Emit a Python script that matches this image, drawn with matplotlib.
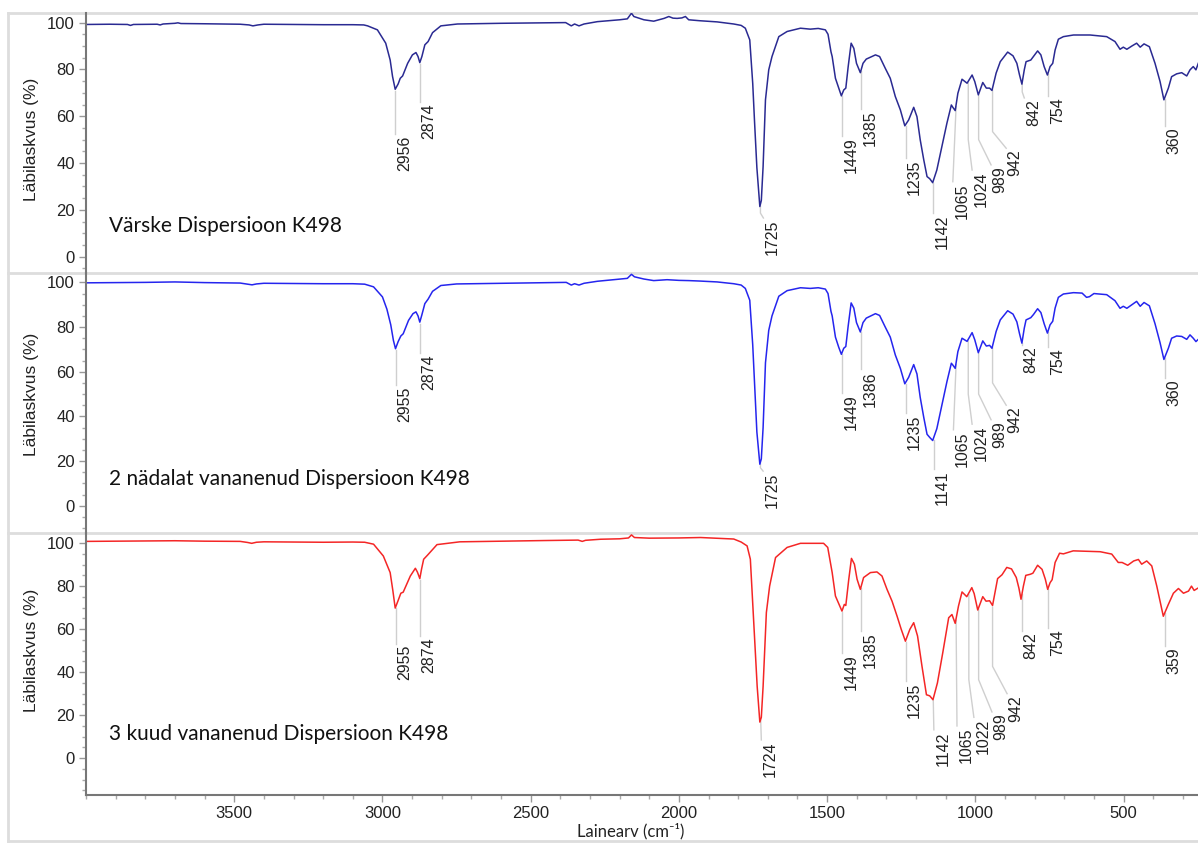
import numpy as np
import matplotlib.pyplot as plt
from matplotlib.lines import Line2D
from matplotlib.ticker import MultipleLocator

# IR spektrid: (lainearv cm-1, läbilaskvus %)
spec_fresh = [
    (4000, 99.2), (3920, 99.3), (3860, 99.2), (3850, 98.8), (3840, 99.2), (3760, 99.3), (3750, 99.0),
    (3740, 99.4), (3700, 99.7), (3690, 99.9), (3680, 99.6), (3600, 99.5), (3480, 99.3), (3450, 99.0),
    (3437, 98.6), (3420, 99.0), (3400, 99.3), (3300, 99.2), (3200, 99.1), (3100, 99.1), (3063, 99.0),
    (3050, 98.6), (3017, 96.9), (2989, 91.2), (2974, 84.0), (2966, 77.0), (2957, 71.5), (2947, 73.8),
    (2940, 76.2), (2932, 77.2), (2915, 82.6), (2899, 86.2), (2887, 87.2), (2880, 85.5), (2874, 82.9),
    (2867, 85.5), (2857, 90.5), (2846, 91.9), (2831, 95.7), (2803, 98.6), (2747, 99.4), (2601, 99.7),
    (2450, 99.9), (2382, 100.0), (2363, 98.6), (2352, 99.4), (2337, 98.6), (2320, 99.4), (2275, 100.4),
    (2200, 101.2), (2174, 101.6), (2160, 104.0), (2152, 102.6), (2118, 101.2), (2085, 100.6),
    (2050, 101.8), (2034, 102.6), (2020, 101.9), (2006, 101.8), (1990, 102.0), (1978, 102.6),
    (1967, 101.2), (1930, 100.8), (1871, 100.3), (1815, 99.4), (1790, 98.8), (1776, 97.6), (1761, 92.6),
    (1751, 74.0), (1745, 58.0), (1737, 38.0), (1727, 21.4), (1722, 24.0), (1716, 38.5), (1708, 67.0),
    (1697, 79.8), (1686, 85.5), (1663, 94.0), (1635, 96.2), (1590, 97.6), (1557, 97.2), (1530, 97.5),
    (1506, 96.9), (1497, 95.0), (1487, 87.5), (1483, 85.5), (1472, 76.2), (1461, 72.0), (1452, 68.7),
    (1444, 71.2), (1437, 72.0), (1429, 81.2), (1419, 91.2), (1410, 89.0), (1401, 82.6), (1388, 78.6),
    (1379, 82.6), (1368, 84.4), (1337, 86.2), (1323, 85.5), (1304, 80.5), (1287, 76.2), (1270, 68.4),
    (1253, 62.7), (1238, 55.9), (1225, 58.4), (1208, 63.8), (1197, 59.8), (1186, 49.9), (1174, 41.3),
    (1163, 34.2), (1154, 33.3), (1144, 31.6), (1130, 37.0), (1113, 47.0), (1096, 57.0), (1081, 64.8),
    (1076, 63.8), (1068, 62.4), (1059, 69.8), (1045, 75.8), (1028, 74.1), (1011, 77.6), (1002, 74.8),
    (990, 69.1), (975, 74.4), (963, 72.0), (952, 72.0), (944, 71.0), (930, 78.4), (916, 83.3),
    (891, 87.4), (873, 85.8), (860, 82.6), (851, 77.6), (843, 73.7), (835, 79.8), (829, 83.3),
    (813, 84.0), (804, 85.5), (790, 87.9), (779, 86.2), (768, 81.2), (757, 77.6), (748, 81.2),
    (739, 82.6), (731, 88.3), (720, 92.9), (703, 94.0), (669, 94.7), (613, 94.7), (557, 94.0),
    (529, 91.9), (512, 88.6), (501, 89.5), (489, 88.6), (472, 90.0), (456, 91.2), (444, 89.5),
    (431, 90.9), (413, 89.7), (394, 82.6), (377, 74.8), (364, 67.0), (349, 72.0), (338, 76.9),
    (321, 78.1), (304, 78.6), (287, 77.2), (276, 79.8), (265, 81.2), (256, 79.8), (248, 82.6),
]

spec_2w = [
    (4000, 99.8), (3900, 99.9), (3800, 100.0), (3700, 100.2), (3600, 99.9), (3480, 99.7), (3455, 99.2),
    (3440, 98.9), (3425, 99.3), (3400, 99.6), (3300, 99.5), (3200, 99.4), (3100, 99.4), (3060, 99.2),
    (3030, 98.0), (3000, 93.5), (2985, 88.0), (2972, 81.0), (2963, 74.0), (2956, 70.3), (2947, 73.5),
    (2938, 76.0), (2930, 77.0), (2912, 83.0), (2897, 86.0), (2887, 86.8), (2880, 85.0), (2874, 82.2),
    (2867, 85.5), (2857, 90.5), (2846, 92.5), (2831, 96.0), (2803, 98.6), (2750, 99.3), (2600, 99.6),
    (2450, 99.9), (2380, 100.0), (2363, 98.8), (2352, 99.4), (2337, 98.8), (2320, 99.6), (2275, 100.5),
    (2200, 101.5), (2174, 101.8), (2160, 103.6), (2150, 102.5), (2118, 101.5), (2085, 100.8),
    (2040, 101.2), (2000, 100.9), (1967, 100.8), (1930, 100.6), (1871, 100.2), (1815, 99.4),
    (1790, 98.8), (1776, 97.3), (1761, 92.0), (1751, 72.0), (1745, 55.0), (1737, 33.0), (1727, 18.6),
    (1722, 21.0), (1716, 35.0), (1708, 64.0), (1697, 78.5), (1686, 85.0), (1663, 93.8), (1635, 96.3),
    (1590, 97.6), (1557, 97.3), (1530, 97.6), (1506, 97.0), (1497, 95.0), (1487, 87.0), (1483, 85.0),
    (1472, 75.5), (1461, 71.0), (1452, 67.8), (1444, 70.5), (1437, 71.3), (1429, 80.5), (1419, 90.8),
    (1410, 88.5), (1401, 82.0), (1388, 77.8), (1379, 82.0), (1368, 84.0), (1337, 86.0), (1323, 85.2),
    (1304, 80.0), (1287, 75.5), (1270, 67.5), (1253, 61.5), (1238, 54.6), (1225, 57.5), (1208, 63.2),
    (1197, 59.0), (1186, 48.5), (1174, 39.5), (1163, 32.0), (1154, 30.6), (1144, 29.2), (1130, 34.5),
    (1113, 45.0), (1096, 55.5), (1081, 63.8), (1076, 63.0), (1068, 61.5), (1059, 69.0), (1045, 75.0),
    (1028, 73.6), (1011, 77.5), (1002, 74.3), (990, 68.5), (975, 73.8), (963, 71.5), (952, 71.8),
    (944, 70.5), (930, 78.0), (916, 83.2), (891, 87.3), (873, 85.8), (860, 82.3), (851, 77.0),
    (843, 72.8), (835, 79.5), (829, 83.2), (813, 84.2), (804, 85.6), (790, 88.2), (779, 86.5),
    (768, 81.5), (757, 77.3), (748, 81.0), (739, 82.6), (731, 88.5), (720, 93.3), (703, 94.8),
    (669, 95.4), (640, 95.2), (625, 93.3), (615, 93.6), (600, 95.0), (557, 94.5), (529, 91.8),
    (512, 88.4), (501, 89.3), (489, 88.4), (472, 90.0), (456, 91.5), (444, 89.3), (431, 91.0),
    (413, 89.5), (394, 81.5), (377, 73.0), (364, 65.5), (349, 70.5), (338, 75.0), (321, 76.0),
    (304, 75.8), (287, 74.5), (276, 76.5), (265, 75.0), (256, 73.5), (248, 74.5),
]

spec_3m = [
    (4000, 100.8), (3900, 100.9), (3800, 101.0), (3700, 101.1), (3600, 100.9), (3480, 100.8),
    (3455, 100.3), (3441, 99.9), (3425, 100.4), (3400, 100.6), (3300, 100.5), (3200, 100.4),
    (3100, 100.5), (3060, 100.4), (3030, 99.5), (2997, 94.0), (2974, 86.3), (2965, 78.0), (2957, 69.8),
    (2948, 73.0), (2938, 76.7), (2930, 77.2), (2906, 84.7), (2889, 88.3), (2882, 86.5), (2874, 83.5),
    (2868, 88.0), (2861, 92.5), (2848, 94.4), (2816, 99.3), (2739, 100.6), (2600, 100.9), (2450, 101.2),
    (2340, 101.4), (2326, 100.8), (2315, 101.3), (2264, 101.8), (2200, 102.0), (2170, 102.4),
    (2160, 103.8), (2150, 102.6), (2100, 102.3), (2000, 102.4), (1927, 102.6), (1815, 101.9),
    (1790, 100.5), (1770, 98.7), (1759, 92.5), (1748, 64.5), (1736, 33.4), (1727, 16.8), (1722, 19.0),
    (1716, 33.4), (1705, 67.7), (1694, 80.0), (1674, 93.3), (1635, 98.0), (1590, 99.9), (1512, 99.9),
    (1498, 98.0), (1483, 86.3), (1472, 75.4), (1458, 71.0), (1450, 68.4), (1442, 71.5), (1437, 71.0),
    (1427, 83.2), (1418, 92.9), (1408, 90.2), (1399, 83.2), (1388, 78.5), (1377, 84.0), (1354, 86.3),
    (1332, 86.6), (1315, 84.7), (1298, 78.5), (1281, 73.0), (1264, 66.0), (1250, 59.9), (1236, 54.4),
    (1221, 59.9), (1208, 63.0), (1195, 56.8), (1180, 42.7), (1165, 29.5), (1154, 29.0), (1143, 27.2),
    (1128, 35.0), (1110, 49.0), (1090, 65.3), (1079, 66.8), (1068, 62.7), (1057, 70.7), (1045, 77.3),
    (1029, 75.1), (1012, 79.3), (1004, 76.5), (992, 68.9), (975, 75.1), (964, 73.0), (952, 73.2),
    (942, 71.0), (925, 83.5), (910, 85.3), (894, 88.7), (878, 88.0), (862, 84.0), (853, 79.0),
    (846, 73.9), (838, 80.0), (830, 85.0), (815, 85.5), (806, 86.0), (790, 89.7), (775, 87.8),
    (764, 83.2), (756, 78.5), (748, 81.6), (741, 83.0), (731, 91.0), (716, 95.3), (703, 95.0),
    (670, 96.4), (579, 96.0), (540, 94.9), (518, 91.0), (505, 91.0), (486, 89.7), (466, 91.7),
    (450, 92.4), (439, 90.2), (422, 91.7), (405, 89.4), (388, 80.0), (366, 66.0), (349, 71.5),
    (332, 76.7), (315, 78.9), (298, 76.7), (281, 77.7), (271, 80.0), (262, 78.0), (250, 79.0),
]

# piikide sildid: (tekst, joone algus cm-1, murdekoha T, joone lõpp cm-1, joone lõpp T)
peaks_fresh = [
    ('2956', 2956, None, 2956, 52.5), ('2874', 2874, None, 2874, 66.0), ('1725', 1725, 18.6, 1715, 16.5),
    ('1449', 1449, None, 1449, 51.5), ('1385', 1385, None, 1385, 63.0), ('1235', 1235, None, 1235, 42.0),
    ('1142', 1142, None, 1142, 18.5), ('1065', 1065, None, 1076, 32.0), ('1024', 1024, 50.0, 1011, 37.0),
    ('989', 989, 50.0, 947, 39.2), ('942', 942, 53.4, 896, 46.3), ('842', 842, 70.4, 835, 67.8),
    ('754', 754, None, 754, 68.5), ('360', 360, None, 360, 56.0),
]
peaks_2w = [
    ('2955', 2955, None, 2955, 54.0), ('2874', 2874, None, 2874, 68.5), ('1725', 1725, 17.0, 1716, 15.5),
    ('1449', 1449, None, 1449, 50.5), ('1386', 1386, None, 1386, 61.0), ('1235', 1235, None, 1235, 41.5),
    ('1141', 1141, None, 1141, 16.5), ('1065', 1065, None, 1074, 34.0), ('1024', 1024, 50.0, 1011, 36.5),
    ('989', 989, 50.0, 947, 38.5), ('942', 942, 55.0, 896, 45.0), ('842', 842, None, 842, 72.0),
    ('754', 754, None, 754, 71.0), ('360', 360, None, 360, 57.0),
]
peaks_3m = [
    ('2955', 2955, None, 2955, 53.3), ('2874', 2874, None, 2874, 57.0), ('1724', 1724, None, 1722, 8.5),
    ('1449', 1449, None, 1449, 49.0), ('1385', 1385, None, 1385, 59.0), ('1235', 1235, None, 1235, 35.7),
    ('1142', 1142, None, 1140, 13.2), ('1065', 1065, None, 1062, 15.0), ('1022', 1022, 36.5, 1005, 19.0),
    ('989', 989, 36.5, 944, 21.5), ('942', 942, 42.7, 893, 30.0), ('842', 842, None, 842, 59.0),
    ('754', 754, None, 754, 60.7), ('359', 359, None, 359, 52.0),
]

names = ['Värske Dispersioon K498', '2 nädalat vananenud Dispersioon K498', '3 kuud vananenud Dispersioon K498']
name_y = [13.0, 12.0, 11.3]
colors = ['#2a2a92', '#2525ee', '#f42626']
ylims = [(-7.0, 104.1), (-12.2, 104.2), (-17.1, 104.7)]
x_ticks = [3500, 3000, 2500, 2000, 1500, 1000, 500]

W, H = 1198, 843
fig = plt.figure(figsize=(W / 100, H / 100), dpi=100)

# paneelide ülemine ja alumine serv pikslites
panel_px = [(13, 273), (273, 533), (533, 795)]
num_font = 'Liberation Sans'

for i, (spec, peaks) in enumerate(zip([spec_fresh, spec_2w, spec_3m], [peaks_fresh, peaks_2w, peaks_3m])):
    top, bot = panel_px[i]
    ax = fig.add_axes([86 / W, 1 - bot / H, (W - 86) / W, (bot - top) / H])
    wn = np.array([p[0] for p in spec], dtype=float)
    tr = np.array([p[1] for p in spec], dtype=float)
    ax.plot(wn, tr, color=colors[i], lw=1.1)
    ax.set_xlim(4000, 249)
    ax.set_ylim(*ylims[i])
    ax.patch.set_alpha(0)

    for s in ['top', 'right']:
        ax.spines[s].set_visible(False)
    ax.spines['left'].set_color('#777777')
    ax.spines['left'].set_linewidth(1.5)

    ax.yaxis.set_minor_locator(MultipleLocator(5))
    ax.set_yticks([0, 20, 40, 60, 80, 100])
    ax.tick_params(axis='y', which='major', direction='out', length=5, width=1, color='#999999',
                   labelsize=12, labelcolor='#222222', pad=3)
    ax.tick_params(axis='y', which='minor', direction='out', length=3, width=1, color='#aaaaaa')
    for lab in ax.get_yticklabels():
        lab.set_fontfamily(num_font)

    if i < 2:
        ax.spines['bottom'].set_visible(False)
        ax.tick_params(axis='x', which='both', bottom=False, labelbottom=False)
    else:
        ax.spines['bottom'].set_color('#777777')
        ax.spines['bottom'].set_linewidth(1.5)
        ax.set_xticks(x_ticks)
        ax.xaxis.set_minor_locator(MultipleLocator(100))
        ax.tick_params(axis='x', which='major', direction='out', length=5, width=1, color='#999999',
                       labelsize=12, labelcolor='#222222', pad=3)
        ax.tick_params(axis='x', which='minor', direction='out', length=3, width=1, color='#aaaaaa')
        for lab in ax.get_xticklabels():
            lab.set_fontfamily(num_font)

    ymin, ymax = ylims[i]
    ax.set_ylabel('Läbilaskvus (%)', fontsize=12.5, color='#222222', fontfamily=num_font)
    ax.yaxis.set_label_coords((39 - 86) / (W - 86), (50 - ymin) / (ymax - ymin))

    ax.text(3922, name_y[i], names[i], fontsize=15, fontfamily='Lato', color='#111111',
            ha='left', va='center')

    # piikide juhtjooned ja sildid
    for txt, x0, knee, x1, y1 in peaks:
        y0 = np.interp(x0, wn[::-1], tr[::-1]) - 0.8
        xs, ys = [x0], [y0]
        if knee is not None:
            xs.append(x0)
            ys.append(knee)
        xs.append(x1)
        ys.append(y1)
        ax.plot(xs, ys, color='#cfcfcf', lw=1.0, zorder=1)
        ax.annotate(txt, xy=(x1, y1), xytext=(6.5, -1.0), textcoords='offset points',
                    rotation=90, ha='center', va='top', fontsize=11.5, fontfamily=num_font,
                    color='#222222')

fig.text(631 / W, 1 - 831 / H, 'Lainearv (cm⁻¹)', fontsize=12, family=['Lato', 'DejaVu Sans'],
         color='#222222', ha='center', va='center')

# hallid raamijooned
frame_c = '#dddddd'
for yp in [13, 273, 533, 841]:
    fig.add_artist(Line2D([8 / W, 1], [1 - yp / H, 1 - yp / H], color=frame_c, lw=2,
                          transform=fig.transFigure, zorder=0))
fig.add_artist(Line2D([8 / W, 8 / W], [1 - 13 / H, 1 - 841 / H], color=frame_c, lw=2,
                      transform=fig.transFigure, zorder=0))

fig.savefig('out.png', dpi=100)
